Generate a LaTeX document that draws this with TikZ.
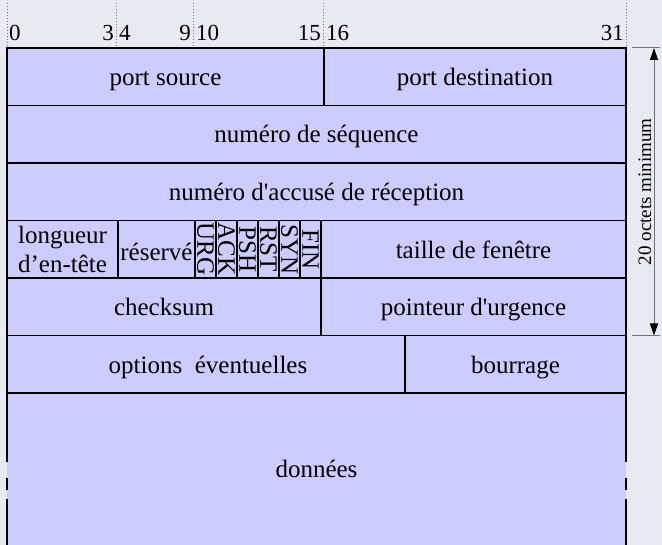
\documentclass[tikz,border=0pt]{standalone}
\usepackage{fontspec}
\setmainfont{Liberation Serif}
\newfontfamily\plainserif{Liberation Serif}
\usetikzlibrary{arrows.meta}
\definecolor{bgcol}{HTML}{E9E9F1}
\definecolor{cellfill}{HTML}{CCCCFF}
\definecolor{tickcol}{HTML}{707070}
\begin{document}
\begin{tikzpicture}[x=1pt,y=-1pt,
  cell/.style={draw=black,line width=1.2pt,fill=cellfill},
  lbl/.style={font=\plainserif\fontsize{25}{29}\selectfont,inner sep=0pt,align=center,anchor=base},
  flag/.style={font=\plainserif\fontsize{25}{28}\selectfont,inner sep=0pt,rotate=-90},
  bitnum/.style={font=\plainserif\fontsize{23}{26}\selectfont,inner sep=0pt},
  tickline/.style={draw=tickcol,line width=0.8pt,dash pattern=on 1.5pt off 1.5pt},
  border/.style={draw=black,line width=2pt},
  dimline/.style={draw=tickcol,line width=1pt}]
\fill[bgcol] (0,0) rectangle (662,545);
\useasboundingbox (0,0) rectangle (662,545);
% bit ticks
\foreach \x in {7,116,193,323,626} \draw[tickline] (\x,3) -- (\x,48);
\node[bitnum,anchor=base west] (b0) at (9,41) {0};
\node[bitnum,anchor=base east] (b3) at (114,41) {3};
\node[bitnum,anchor=base west] (b4) at (119,41) {4};
\node[bitnum,anchor=base east] (b9) at (191,41) {9};
\node[bitnum,anchor=base west] (b10) at (196,41) {10};
\node[bitnum,anchor=base east] (b15) at (321,41) {15};
\node[bitnum,anchor=base west] (b16) at (326,41) {16};
\node[bitnum,anchor=base east] (b31) at (624,41) {31};
% row 1
\draw[cell] (7,48) rectangle (324,105.5);
\draw[cell] (324,48) rectangle (626,105.5);
\node[lbl] (srcport) at (165.5,85.5) {port source};
\node[lbl] (dstport) at (475,85.5) {port destination};
% row 2
\draw[cell] (7,105.5) rectangle (626,163);
\node[lbl] (seq) at (316.5,143) {numéro de séquence};
% row 3
\draw[cell] (7,163) rectangle (626,220.5);
\node[lbl] (ack) at (316.5,200.5) {numéro d'accusé de réception};
% row 4
\draw[cell] (7,220.5) rectangle (118,278);
\draw[cell] (118,220.5) rectangle (195,278);
\foreach \a/\b in {195/216,216/237,237/258,258/279,279/300,300/321}
  \draw[cell] (\a,220.5) rectangle (\b,278);
\draw[cell] (321,220.5) rectangle (626,278);
\node[lbl,anchor=center] (hlen) at (62.5,249) {longueur\\d’en-tête};
\node[lbl] (resv) at (156.5,261) {réservé};
\node[flag] (urg) at (205.5,249.25) {URG};
\node[flag] (ackf) at (226.5,249.25) {ACK};
\node[flag] (psh) at (247.5,249.25) {PSH};
\node[flag] (rst) at (268.5,249.25) {RST};
\node[flag] (syn) at (289.5,249.25) {SYN};
\node[flag] (fin) at (310.5,249.25) {FIN};
\node[lbl] (win) at (473.5,259) {taille de fenêtre};
% row 5
\draw[cell] (7,278) rectangle (321,335.5);
\draw[cell] (321,278) rectangle (626,335.5);
\node[lbl] (chk) at (164,316) {checksum};
\node[lbl] (urgp) at (473.5,316) {pointeur d'urgence};
% row 6
\draw[cell] (7,335.5) rectangle (405,393);
\draw[cell] (405,335.5) rectangle (626,393);
\node[lbl] (opt) at (208,373.5) {options\ \ éventuelles};
\node[lbl] (pad) at (515.5,373.5) {bourrage};
% data
\fill[cellfill] (7,393) rectangle (626,546);
\draw[draw=black,line width=1.5pt] (7,393) -- (626,393);
\node[lbl] (data) at (316.5,478) {données};
% outer borders
\draw[border] (6.5,47.5) -- (6.5,462);
\draw[border] (6.5,478) -- (6.5,490);
\draw[border] (6.5,499) -- (6.5,546);
\draw[border] (626,47.5) -- (626,462);
\draw[border] (626,478) -- (626,490);
\draw[border] (626,499) -- (626,546);
% dimension arrow
\coordinate (dimtop) at (654,48);
\coordinate (dimbot) at (654,335.5);
\draw[dimline] (632,48) -- (660,48);
\draw[dimline] (632,335.5) -- (660,335.5);
\draw[dimline,{Triangle[length=12pt,width=8pt,fill=black,color=black]}-{Triangle[length=12pt,width=8pt,fill=black,color=black]}] (dimtop) -- (dimbot);
\node[font=\plainserif\fontsize{19}{22}\selectfont,inner sep=0pt,rotate=90] (dimlbl) at (645,191.75) {20 octets minimum};
\end{tikzpicture}
\end{document}
